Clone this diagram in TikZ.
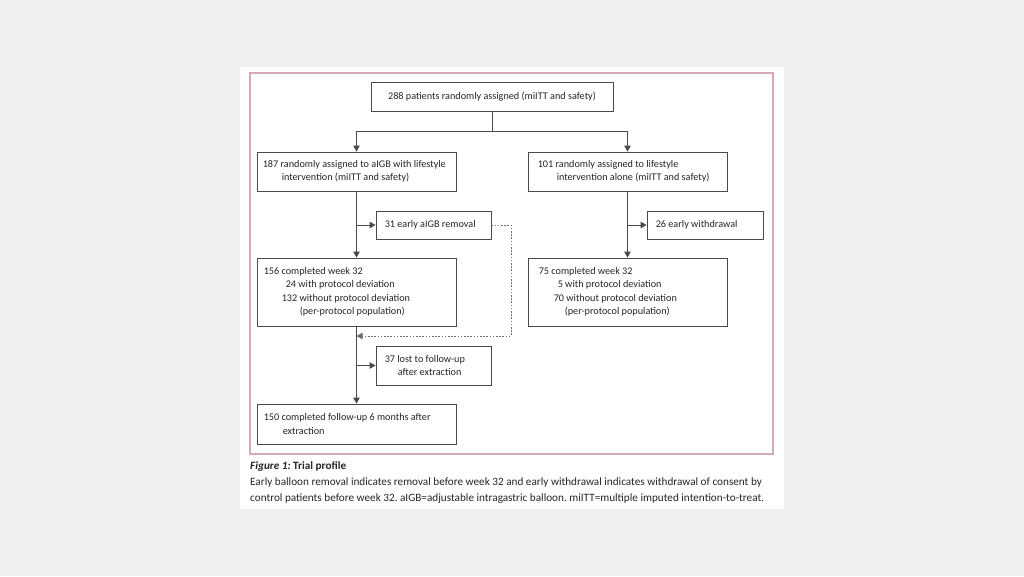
\documentclass[tikz,border=0pt]{standalone}
\usepackage{fontspec}
\setmainfont{Carlito}
\usetikzlibrary{arrows.meta}
\definecolor{pagegrey}{HTML}{EFEFEF}
\definecolor{framepink}{HTML}{D6A9BA}
\definecolor{boxline}{HTML}{4A4A4A}
\definecolor{txt}{HTML}{262626}
\tikzset{
  box/.style={draw=boxline, line width=0.9pt, fill=white, inner sep=0pt},
  btxt/.style={text=txt, inner sep=0pt, anchor=west, align=left,
    font=\fontsize{10.2}{13.5}\selectfont},
  conn/.style={draw=boxline, line width=0.9pt},
  arr/.style={conn, -{Triangle[length=6pt,width=6.5pt]}},
  dasharr/.style={draw=boxline!80, line width=0.8pt, dash pattern=on 1.6pt off 1.6pt, -{Triangle[length=6pt,width=6.5pt]}},
}
\begin{document}
\begin{tikzpicture}[x=1pt,y=-1pt]
\frenchspacing
\useasboundingbox (0,0) rectangle (1024,576);
\fill[pagegrey] (0,0) rectangle (1024,576);
\fill[white] (240,67) rectangle (784,509);
\draw[framepink, line width=1.4pt] (250,73) rectangle (773,454);

\node[box, minimum width=242pt, minimum height=29pt] (T) at (492,96.5) {};
\node[btxt, anchor=center] (Tt) at (T.center) {288 patients randomly assigned (miITT and safety)};

\node[box, minimum width=199pt, minimum height=39pt] (L) at (356.5,171.5) {};
\node[btxt] (Lt) at ([xshift=6pt]L.west)
  {187 randomly assigned to aIGB with lifestyle\\\hspace*{19pt}intervention (miITT and safety)};

\node[box, minimum width=199pt, minimum height=39pt] (R) at (627.5,171.5) {};
\node[btxt] (Rt) at ([xshift=10pt]R.west)
  {101 randomly assigned to lifestyle\\\hspace*{19pt}intervention alone (miITT and safety)};

\node[box, minimum width=115pt, minimum height=28pt] (E31) at (433.5,225) {};
\node[btxt] (E31t) at ([xshift=9pt]E31.west) {31 early aIGB removal};

\node[box, minimum width=116pt, minimum height=28pt] (E26) at (705,225) {};
\node[btxt] (E26t) at ([xshift=9pt]E26.west) {26 early withdrawal};

\node[box, minimum width=199pt, minimum height=68pt] (C156) at (356.5,292) {};
\node[btxt] (C156t) at ([xshift=7pt]C156.west)
  {156 completed week 32\\\hspace*{22pt}24 with protocol deviation\\\hspace*{18pt}132 without protocol deviation\\\hspace*{36pt}(per-protocol population)};

\node[box, minimum width=199pt, minimum height=68pt] (C75) at (627.5,292) {};
\node[btxt] (C75t) at ([xshift=11pt]C75.west)
  {75 completed week 32\\\hspace*{19pt}5 with protocol deviation\\\hspace*{15pt}70 without protocol deviation\\\hspace*{26pt}(per-protocol population)};

\node[box, minimum width=115pt, minimum height=39pt] (L37) at (433.5,365.5) {};
\node[btxt] (L37t) at ([xshift=9pt]L37.west)
  {37 lost to follow-up\\\hspace*{13pt}after extraction};

\node[box, minimum width=199pt, minimum height=40pt] (F150) at (356.5,424) {};
\node[btxt] (F150t) at ([xshift=7pt]F150.west)
  {150 completed follow-up 6 months after\\\hspace*{19pt}extraction};

\coordinate (br) at (492,131);
\coordinate (dd) at (511,336);
\draw[conn] (T.south) -- (br);
\draw[arr] (br) -| (L.north);
\draw[arr] (br) -| (R.north);
\draw[arr] (L.south) -- (C156.north);
\draw[arr] (L.south |- E31.west) -- (E31.west);
\draw[arr] (R.south) -- (C75.north);
\draw[arr] (R.south |- E26.west) -- (E26.west);
\draw[arr] (C156.south) -- (F150.north);
\draw[arr] (C156.south |- L37.west) -- (L37.west);
\draw[dasharr] (E31.east) -| (dd) -- (C156.south |- dd);

\node[anchor=north west, inner sep=0pt, text=txt, align=left,
  font=\fontsize{11.2}{16}\selectfont] (cap) at (250,461)
  {\textbf{\textit{Figure 1:} Trial profile}\\
   Early balloon removal indicates removal before week 32 and early withdrawal indicates withdrawal of consent by\\
   control patients before week 32. aIGB=adjustable intragastric balloon. miITT=multiple imputed intention-to-treat.};
\end{tikzpicture}
\end{document}
